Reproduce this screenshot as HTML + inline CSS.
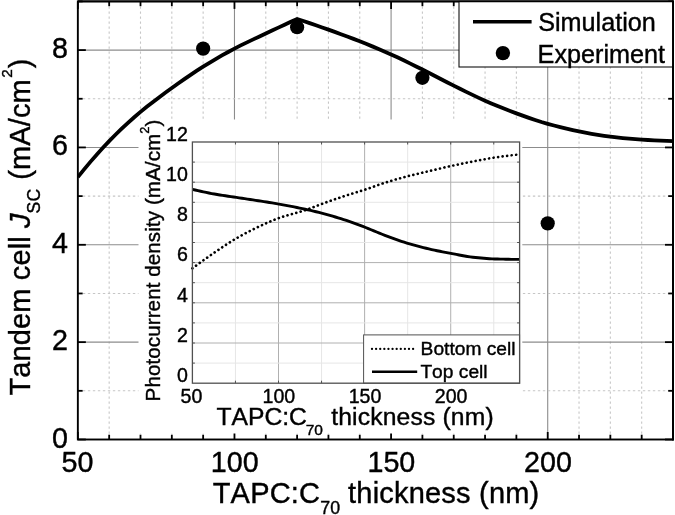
<!DOCTYPE html>
<html><head><meta charset="utf-8"><title>Tandem cell Jsc</title>
<style>html,body{margin:0;padding:0;background:#fff;}svg{display:block;filter:grayscale(100%) blur(0.3px);}text{font-family:"Liberation Sans",sans-serif;fill:#000;stroke:#000;stroke-width:0.4px;font-kerning:none;}</style>
</head><body>
<svg width="675" height="515" viewBox="0 0 675 515">
<rect x="0" y="0" width="675" height="515" fill="#fff"/>
<g fill="none" shape-rendering="auto">
<line x1="109.17" y1="1.40" x2="109.17" y2="439.50" stroke="#c6c6c6" stroke-width="1.1" stroke-dasharray="2.4 2.6"/>
<line x1="140.50" y1="1.40" x2="140.50" y2="439.50" stroke="#c6c6c6" stroke-width="1.1" stroke-dasharray="2.4 2.6"/>
<line x1="171.82" y1="1.40" x2="171.82" y2="439.50" stroke="#c6c6c6" stroke-width="1.1" stroke-dasharray="2.4 2.6"/>
<line x1="203.14" y1="1.40" x2="203.14" y2="439.50" stroke="#c6c6c6" stroke-width="1.1" stroke-dasharray="2.4 2.6"/>
<line x1="234.47" y1="1.40" x2="234.47" y2="439.50" stroke="#8c8c8c" stroke-width="1.1"/>
<line x1="265.79" y1="1.40" x2="265.79" y2="439.50" stroke="#c6c6c6" stroke-width="1.1" stroke-dasharray="2.4 2.6"/>
<line x1="297.12" y1="1.40" x2="297.12" y2="439.50" stroke="#c6c6c6" stroke-width="1.1" stroke-dasharray="2.4 2.6"/>
<line x1="328.44" y1="1.40" x2="328.44" y2="439.50" stroke="#c6c6c6" stroke-width="1.1" stroke-dasharray="2.4 2.6"/>
<line x1="359.76" y1="1.40" x2="359.76" y2="439.50" stroke="#c6c6c6" stroke-width="1.1" stroke-dasharray="2.4 2.6"/>
<line x1="391.09" y1="1.40" x2="391.09" y2="439.50" stroke="#8c8c8c" stroke-width="1.1"/>
<line x1="422.41" y1="1.40" x2="422.41" y2="439.50" stroke="#c6c6c6" stroke-width="1.1" stroke-dasharray="2.4 2.6"/>
<line x1="453.73" y1="1.40" x2="453.73" y2="439.50" stroke="#c6c6c6" stroke-width="1.1" stroke-dasharray="2.4 2.6"/>
<line x1="485.06" y1="1.40" x2="485.06" y2="439.50" stroke="#c6c6c6" stroke-width="1.1" stroke-dasharray="2.4 2.6"/>
<line x1="516.38" y1="1.40" x2="516.38" y2="439.50" stroke="#c6c6c6" stroke-width="1.1" stroke-dasharray="2.4 2.6"/>
<line x1="547.71" y1="1.40" x2="547.71" y2="439.50" stroke="#8c8c8c" stroke-width="1.1"/>
<line x1="579.03" y1="1.40" x2="579.03" y2="439.50" stroke="#c6c6c6" stroke-width="1.1" stroke-dasharray="2.4 2.6"/>
<line x1="610.35" y1="1.40" x2="610.35" y2="439.50" stroke="#c6c6c6" stroke-width="1.1" stroke-dasharray="2.4 2.6"/>
<line x1="641.68" y1="1.40" x2="641.68" y2="439.50" stroke="#c6c6c6" stroke-width="1.1" stroke-dasharray="2.4 2.6"/>
<line x1="77.85" y1="390.82" x2="673.00" y2="390.82" stroke="#c6c6c6" stroke-width="1.1" stroke-dasharray="2.4 2.6"/>
<line x1="77.85" y1="342.14" x2="673.00" y2="342.14" stroke="#8c8c8c" stroke-width="1.1"/>
<line x1="77.85" y1="293.47" x2="673.00" y2="293.47" stroke="#c6c6c6" stroke-width="1.1" stroke-dasharray="2.4 2.6"/>
<line x1="77.85" y1="244.79" x2="673.00" y2="244.79" stroke="#8c8c8c" stroke-width="1.1"/>
<line x1="77.85" y1="196.11" x2="673.00" y2="196.11" stroke="#c6c6c6" stroke-width="1.1" stroke-dasharray="2.4 2.6"/>
<line x1="77.85" y1="147.43" x2="673.00" y2="147.43" stroke="#8c8c8c" stroke-width="1.1"/>
<line x1="77.85" y1="98.76" x2="673.00" y2="98.76" stroke="#c6c6c6" stroke-width="1.1" stroke-dasharray="2.4 2.6"/>
<line x1="77.85" y1="50.08" x2="673.00" y2="50.08" stroke="#8c8c8c" stroke-width="1.1"/>
</g>
<clipPath id="mc"><rect x="77.85" y="1.40" width="595.15" height="438.10"/></clipPath>
<path d="M77.85,177.13 L84.11,169.37 L90.38,161.87 L96.64,154.64 L102.91,147.72 L109.17,141.11 L115.44,134.78 L121.70,128.70 L127.97,122.86 L134.23,117.26 L140.50,111.90 L146.76,106.78 L153.03,101.89 L159.29,97.17 L165.56,92.58 L171.82,88.05 L178.09,83.56 L184.35,79.14 L190.62,74.82 L196.88,70.64 L203.14,66.63 L209.41,62.78 L215.67,59.05 L221.94,55.44 L228.20,51.97 L234.47,48.62 L240.73,45.42 L247.00,42.37 L253.26,39.40 L259.53,36.47 L265.79,33.53 L272.06,30.57 L278.32,27.63 L284.59,24.71 L290.85,21.81 L297.12,18.92 L303.38,20.99 L309.65,23.09 L315.91,25.24 L322.17,27.42 L328.44,29.63 L334.70,31.88 L340.97,34.17 L347.23,36.49 L353.50,38.88 L359.76,41.32 L366.03,43.82 L372.29,46.37 L378.56,49.00 L384.82,51.69 L391.09,54.46 L397.35,57.33 L403.62,60.30 L409.88,63.35 L416.15,66.44 L422.41,69.55 L428.68,72.71 L434.94,75.95 L441.20,79.21 L447.47,82.45 L453.73,85.61 L460.00,88.73 L466.26,91.84 L472.53,94.90 L478.79,97.87 L485.06,100.70 L491.32,103.41 L497.59,106.04 L503.85,108.58 L510.12,111.02 L516.38,113.36 L522.65,115.63 L528.91,117.85 L535.18,119.98 L541.44,121.98 L547.71,123.82 L553.97,125.53 L560.23,127.14 L566.50,128.65 L572.76,130.06 L579.03,131.37 L585.29,132.61 L591.56,133.79 L597.82,134.90 L604.09,135.88 L610.35,136.72 L616.62,137.45 L622.88,138.11 L629.15,138.70 L635.41,139.21 L641.68,139.64 L647.94,140.02 L654.21,140.37 L660.47,140.67 L666.74,140.92 L673.00,141.11" fill="none" stroke="#000" stroke-width="3.8" stroke-linejoin="miter" clip-path="url(#mc)"/>
<circle cx="203.14" cy="48.62" r="7.1" fill="#000"/>
<circle cx="297.12" cy="27.20" r="7.1" fill="#000"/>
<circle cx="422.41" cy="77.82" r="7.1" fill="#000"/>
<circle cx="547.71" cy="223.37" r="7.1" fill="#000"/>
<g stroke="#000" stroke-width="1.8">
<line x1="77.85" y1="439.50" x2="77.85" y2="432.00"/>
<line x1="77.85" y1="1.40" x2="77.85" y2="8.90"/>
<line x1="109.17" y1="439.50" x2="109.17" y2="434.70"/>
<line x1="109.17" y1="1.40" x2="109.17" y2="6.20"/>
<line x1="140.50" y1="439.50" x2="140.50" y2="434.70"/>
<line x1="140.50" y1="1.40" x2="140.50" y2="6.20"/>
<line x1="171.82" y1="439.50" x2="171.82" y2="434.70"/>
<line x1="171.82" y1="1.40" x2="171.82" y2="6.20"/>
<line x1="203.14" y1="439.50" x2="203.14" y2="434.70"/>
<line x1="203.14" y1="1.40" x2="203.14" y2="6.20"/>
<line x1="234.47" y1="439.50" x2="234.47" y2="432.00"/>
<line x1="234.47" y1="1.40" x2="234.47" y2="8.90"/>
<line x1="265.79" y1="439.50" x2="265.79" y2="434.70"/>
<line x1="265.79" y1="1.40" x2="265.79" y2="6.20"/>
<line x1="297.12" y1="439.50" x2="297.12" y2="434.70"/>
<line x1="297.12" y1="1.40" x2="297.12" y2="6.20"/>
<line x1="328.44" y1="439.50" x2="328.44" y2="434.70"/>
<line x1="328.44" y1="1.40" x2="328.44" y2="6.20"/>
<line x1="359.76" y1="439.50" x2="359.76" y2="434.70"/>
<line x1="359.76" y1="1.40" x2="359.76" y2="6.20"/>
<line x1="391.09" y1="439.50" x2="391.09" y2="432.00"/>
<line x1="391.09" y1="1.40" x2="391.09" y2="8.90"/>
<line x1="422.41" y1="439.50" x2="422.41" y2="434.70"/>
<line x1="422.41" y1="1.40" x2="422.41" y2="6.20"/>
<line x1="453.73" y1="439.50" x2="453.73" y2="434.70"/>
<line x1="453.73" y1="1.40" x2="453.73" y2="6.20"/>
<line x1="485.06" y1="439.50" x2="485.06" y2="434.70"/>
<line x1="485.06" y1="1.40" x2="485.06" y2="6.20"/>
<line x1="516.38" y1="439.50" x2="516.38" y2="434.70"/>
<line x1="516.38" y1="1.40" x2="516.38" y2="6.20"/>
<line x1="547.71" y1="439.50" x2="547.71" y2="432.00"/>
<line x1="547.71" y1="1.40" x2="547.71" y2="8.90"/>
<line x1="579.03" y1="439.50" x2="579.03" y2="434.70"/>
<line x1="579.03" y1="1.40" x2="579.03" y2="6.20"/>
<line x1="610.35" y1="439.50" x2="610.35" y2="434.70"/>
<line x1="610.35" y1="1.40" x2="610.35" y2="6.20"/>
<line x1="641.68" y1="439.50" x2="641.68" y2="434.70"/>
<line x1="641.68" y1="1.40" x2="641.68" y2="6.20"/>
<line x1="673.00" y1="439.50" x2="673.00" y2="434.70"/>
<line x1="673.00" y1="1.40" x2="673.00" y2="6.20"/>
<line x1="77.85" y1="439.50" x2="85.85" y2="439.50"/>
<line x1="673.00" y1="439.50" x2="665.00" y2="439.50"/>
<line x1="77.85" y1="390.82" x2="82.65" y2="390.82"/>
<line x1="673.00" y1="390.82" x2="668.20" y2="390.82"/>
<line x1="77.85" y1="342.14" x2="85.85" y2="342.14"/>
<line x1="673.00" y1="342.14" x2="665.00" y2="342.14"/>
<line x1="77.85" y1="293.47" x2="82.65" y2="293.47"/>
<line x1="673.00" y1="293.47" x2="668.20" y2="293.47"/>
<line x1="77.85" y1="244.79" x2="85.85" y2="244.79"/>
<line x1="673.00" y1="244.79" x2="665.00" y2="244.79"/>
<line x1="77.85" y1="196.11" x2="82.65" y2="196.11"/>
<line x1="673.00" y1="196.11" x2="668.20" y2="196.11"/>
<line x1="77.85" y1="147.43" x2="85.85" y2="147.43"/>
<line x1="673.00" y1="147.43" x2="665.00" y2="147.43"/>
<line x1="77.85" y1="98.76" x2="82.65" y2="98.76"/>
<line x1="673.00" y1="98.76" x2="668.20" y2="98.76"/>
<line x1="77.85" y1="50.08" x2="85.85" y2="50.08"/>
<line x1="673.00" y1="50.08" x2="665.00" y2="50.08"/>
<line x1="77.85" y1="1.40" x2="82.65" y2="1.40"/>
<line x1="673.00" y1="1.40" x2="668.20" y2="1.40"/>
</g>
<rect x="77.85" y="1.40" width="595.15" height="438.10" fill="none" stroke="#000" stroke-width="1.9"/>
<rect x="459.0" y="1.40" width="214.00" height="65.60" fill="#fff" stroke="#111" stroke-width="1.1"/>
<line x1="473" y1="21.8" x2="531.6" y2="21.8" stroke="#000" stroke-width="3.4"/>
<circle cx="502.9" cy="53.1" r="7.2" fill="#000"/>
<text x="538.2" y="30.6" font-size="25.2">Simulation</text>
<text x="537.6" y="62.5" font-size="25.2">Experiment</text>
<line x1="77.85" y1="1.40" x2="673.00" y2="1.40" stroke="#000" stroke-width="1.9"/>
<line x1="673.00" y1="0.45" x2="673.00" y2="440.45" stroke="#000" stroke-width="1.9"/>
<text x="68.0" y="448.10" font-size="28.7" text-anchor="end">0</text>
<text x="68.0" y="349.94" font-size="28.7" text-anchor="end">2</text>
<text x="68.0" y="252.59" font-size="28.7" text-anchor="end">4</text>
<text x="68.0" y="155.23" font-size="28.7" text-anchor="end">6</text>
<text x="68.0" y="57.88" font-size="28.7" text-anchor="end">8</text>
<text x="77.55" y="471.7" font-size="28.7" text-anchor="middle">50</text>
<text x="234.77" y="471.7" font-size="28.7" text-anchor="middle">100</text>
<text x="391.39" y="471.7" font-size="28.7" text-anchor="middle">150</text>
<text x="548.01" y="471.7" font-size="28.7" text-anchor="middle">200</text>
<text x="212.7" y="502.5" font-size="29" letter-spacing="0.2">TAPC:C<tspan font-size="17.8" dy="11">70</tspan><tspan dy="-11" dx="-0.6"> thickness (nm)</tspan></text>
<text transform="translate(29.6,395.5) rotate(-90)" font-size="29" letter-spacing="0.12">Tandem cell <tspan font-style="italic">J</tspan><tspan font-size="17.6" dy="10.5">SC</tspan><tspan dy="-10.5" dx="0.8"> (mA/cm</tspan><tspan font-size="15.4" dy="-17.6" dx="1.5">2</tspan><tspan dy="17.6" dx="0.7">)</tspan></text>
<rect x="138.5" y="119.5" width="383.80" height="314.00" fill="#fff"/>
<line x1="235.45" y1="142.00" x2="235.45" y2="383.20" stroke="#e6e6e6" stroke-width="1"/>
<line x1="278.51" y1="142.00" x2="278.51" y2="383.20" stroke="#b0b0b0" stroke-width="1"/>
<line x1="321.56" y1="142.00" x2="321.56" y2="383.20" stroke="#e6e6e6" stroke-width="1"/>
<line x1="364.61" y1="142.00" x2="364.61" y2="383.20" stroke="#b0b0b0" stroke-width="1"/>
<line x1="407.66" y1="142.00" x2="407.66" y2="383.20" stroke="#e6e6e6" stroke-width="1"/>
<line x1="450.72" y1="142.00" x2="450.72" y2="383.20" stroke="#b0b0b0" stroke-width="1"/>
<line x1="493.77" y1="142.00" x2="493.77" y2="383.20" stroke="#e6e6e6" stroke-width="1"/>
<line x1="192.40" y1="363.10" x2="519.60" y2="363.10" stroke="#e6e6e6" stroke-width="1"/>
<line x1="192.40" y1="343.00" x2="519.60" y2="343.00" stroke="#b0b0b0" stroke-width="1"/>
<line x1="192.40" y1="322.90" x2="519.60" y2="322.90" stroke="#e6e6e6" stroke-width="1"/>
<line x1="192.40" y1="302.80" x2="519.60" y2="302.80" stroke="#b0b0b0" stroke-width="1"/>
<line x1="192.40" y1="282.70" x2="519.60" y2="282.70" stroke="#e6e6e6" stroke-width="1"/>
<line x1="192.40" y1="262.60" x2="519.60" y2="262.60" stroke="#b0b0b0" stroke-width="1"/>
<line x1="192.40" y1="242.50" x2="519.60" y2="242.50" stroke="#e6e6e6" stroke-width="1"/>
<line x1="192.40" y1="222.40" x2="519.60" y2="222.40" stroke="#b0b0b0" stroke-width="1"/>
<line x1="192.40" y1="202.30" x2="519.60" y2="202.30" stroke="#e6e6e6" stroke-width="1"/>
<line x1="192.40" y1="182.20" x2="519.60" y2="182.20" stroke="#b0b0b0" stroke-width="1"/>
<line x1="192.40" y1="162.10" x2="519.60" y2="162.10" stroke="#e6e6e6" stroke-width="1"/>
<path d="M192.40,189.30 L195.15,189.97 L197.90,190.63 L200.65,191.26 L203.40,191.87 L206.15,192.45 L208.90,193.01 L211.65,193.55 L214.40,194.05 L217.15,194.53 L219.90,194.97 L222.65,195.39 L225.39,195.80 L228.14,196.20 L230.89,196.60 L233.64,197.01 L236.39,197.43 L239.14,197.85 L241.89,198.27 L244.64,198.68 L247.39,199.09 L250.14,199.51 L252.89,199.92 L255.64,200.33 L258.39,200.75 L261.14,201.18 L263.89,201.60 L266.64,202.04 L269.39,202.48 L272.14,202.93 L274.89,203.39 L277.64,203.87 L280.39,204.35 L283.14,204.85 L285.89,205.35 L288.64,205.87 L291.38,206.40 L294.13,206.94 L296.88,207.49 L299.63,208.06 L302.38,208.63 L305.13,209.22 L307.88,209.82 L310.63,210.43 L313.38,211.07 L316.13,211.74 L318.88,212.42 L321.63,213.13 L324.38,213.87 L327.13,214.62 L329.88,215.40 L332.63,216.19 L335.38,217.01 L338.13,217.84 L340.88,218.70 L343.63,219.57 L346.38,220.46 L349.13,221.38 L351.88,222.34 L354.63,223.33 L357.37,224.36 L360.12,225.40 L362.87,226.46 L365.62,227.52 L368.37,228.61 L371.12,229.74 L373.87,230.88 L376.62,232.03 L379.37,233.17 L382.12,234.27 L384.87,235.34 L387.62,236.37 L390.37,237.39 L393.12,238.39 L395.87,239.38 L398.62,240.35 L401.37,241.28 L404.12,242.18 L406.87,243.04 L409.62,243.86 L412.37,244.66 L415.12,245.43 L417.87,246.18 L420.62,246.91 L423.36,247.61 L426.11,248.28 L428.86,248.93 L431.61,249.55 L434.36,250.15 L437.11,250.72 L439.86,251.28 L442.61,251.82 L445.36,252.34 L448.11,252.86 L450.86,253.37 L453.61,253.90 L456.36,254.43 L459.11,254.97 L461.86,255.49 L464.61,255.99 L467.36,256.45 L470.11,256.85 L472.86,257.20 L475.61,257.49 L478.36,257.78 L481.11,258.05 L483.86,258.30 L486.61,258.51 L489.35,258.70 L492.10,258.84 L494.85,258.93 L497.60,259.02 L500.35,259.10 L503.10,259.17 L505.85,259.23 L508.60,259.29 L511.35,259.34 L514.10,259.37 L516.85,259.39 L519.60,259.40" fill="none" stroke="#000" stroke-width="2.9"/>
<path d="M192.40,268.30 L195.15,266.26 L197.90,264.24 L200.65,262.25 L203.40,260.27 L206.15,258.32 L208.90,256.39 L211.65,254.48 L214.40,252.60 L217.15,250.72 L219.90,248.84 L222.65,246.99 L225.39,245.16 L228.14,243.36 L230.89,241.62 L233.64,239.94 L236.39,238.33 L239.14,236.76 L241.89,235.24 L244.64,233.75 L247.39,232.29 L250.14,230.88 L252.89,229.50 L255.64,228.16 L258.39,226.84 L261.14,225.54 L263.89,224.26 L266.64,223.01 L269.39,221.80 L272.14,220.63 L274.89,219.52 L277.64,218.48 L280.39,217.51 L283.14,216.61 L285.89,215.77 L288.64,214.96 L291.38,214.19 L294.13,213.43 L296.88,212.66 L299.63,211.88 L302.38,211.06 L305.13,210.19 L307.88,209.26 L310.63,208.24 L313.38,207.17 L316.13,206.07 L318.88,204.99 L321.63,203.95 L324.38,202.96 L327.13,201.98 L329.88,201.01 L332.63,200.05 L335.38,199.10 L338.13,198.17 L340.88,197.25 L343.63,196.33 L346.38,195.43 L349.13,194.54 L351.88,193.68 L354.63,192.85 L357.37,192.01 L360.12,191.18 L362.87,190.32 L365.62,189.43 L368.37,188.49 L371.12,187.53 L373.87,186.54 L376.62,185.55 L379.37,184.58 L382.12,183.63 L384.87,182.74 L387.62,181.88 L390.37,181.05 L393.12,180.23 L395.87,179.44 L398.62,178.66 L401.37,177.91 L404.12,177.16 L406.87,176.44 L409.62,175.73 L412.37,175.05 L415.12,174.38 L417.87,173.73 L420.62,173.09 L423.36,172.45 L426.11,171.82 L428.86,171.17 L431.61,170.52 L434.36,169.87 L437.11,169.21 L439.86,168.56 L442.61,167.91 L445.36,167.27 L448.11,166.64 L450.86,166.03 L453.61,165.43 L456.36,164.85 L459.11,164.27 L461.86,163.70 L464.61,163.14 L467.36,162.59 L470.11,162.04 L472.86,161.51 L475.61,160.98 L478.36,160.44 L481.11,159.91 L483.86,159.40 L486.61,158.90 L489.35,158.42 L492.10,157.96 L494.85,157.54 L497.60,157.14 L500.35,156.74 L503.10,156.36 L505.85,155.99 L508.60,155.64 L511.35,155.30 L514.10,154.98 L516.85,154.68 L519.60,154.40" fill="none" stroke="#000" stroke-width="2.7" stroke-linecap="round" stroke-dasharray="0.01 4.55"/>
<g stroke="#505050" stroke-width="1">
<line x1="235.45" y1="383.20" x2="235.45" y2="380.70"/>
<line x1="235.45" y1="142.00" x2="235.45" y2="144.50"/>
<line x1="278.51" y1="383.20" x2="278.51" y2="380.70"/>
<line x1="278.51" y1="142.00" x2="278.51" y2="144.50"/>
<line x1="321.56" y1="383.20" x2="321.56" y2="380.70"/>
<line x1="321.56" y1="142.00" x2="321.56" y2="144.50"/>
<line x1="364.61" y1="383.20" x2="364.61" y2="380.70"/>
<line x1="364.61" y1="142.00" x2="364.61" y2="144.50"/>
<line x1="407.66" y1="383.20" x2="407.66" y2="380.70"/>
<line x1="407.66" y1="142.00" x2="407.66" y2="144.50"/>
<line x1="450.72" y1="383.20" x2="450.72" y2="380.70"/>
<line x1="450.72" y1="142.00" x2="450.72" y2="144.50"/>
<line x1="493.77" y1="383.20" x2="493.77" y2="380.70"/>
<line x1="493.77" y1="142.00" x2="493.77" y2="144.50"/>
<line x1="192.40" y1="363.10" x2="194.90" y2="363.10"/>
<line x1="519.60" y1="363.10" x2="517.10" y2="363.10"/>
<line x1="192.40" y1="343.00" x2="194.90" y2="343.00"/>
<line x1="519.60" y1="343.00" x2="517.10" y2="343.00"/>
<line x1="192.40" y1="322.90" x2="194.90" y2="322.90"/>
<line x1="519.60" y1="322.90" x2="517.10" y2="322.90"/>
<line x1="192.40" y1="302.80" x2="194.90" y2="302.80"/>
<line x1="519.60" y1="302.80" x2="517.10" y2="302.80"/>
<line x1="192.40" y1="282.70" x2="194.90" y2="282.70"/>
<line x1="519.60" y1="282.70" x2="517.10" y2="282.70"/>
<line x1="192.40" y1="262.60" x2="194.90" y2="262.60"/>
<line x1="519.60" y1="262.60" x2="517.10" y2="262.60"/>
<line x1="192.40" y1="242.50" x2="194.90" y2="242.50"/>
<line x1="519.60" y1="242.50" x2="517.10" y2="242.50"/>
<line x1="192.40" y1="222.40" x2="194.90" y2="222.40"/>
<line x1="519.60" y1="222.40" x2="517.10" y2="222.40"/>
<line x1="192.40" y1="202.30" x2="194.90" y2="202.30"/>
<line x1="519.60" y1="202.30" x2="517.10" y2="202.30"/>
<line x1="192.40" y1="182.20" x2="194.90" y2="182.20"/>
<line x1="519.60" y1="182.20" x2="517.10" y2="182.20"/>
<line x1="192.40" y1="162.10" x2="194.90" y2="162.10"/>
<line x1="519.60" y1="162.10" x2="517.10" y2="162.10"/>
</g>
<rect x="363.6" y="334.9" width="156.00" height="48.30" fill="#fff" stroke="#505050" stroke-width="1"/>
<line x1="372" y1="348.9" x2="417.2" y2="348.9" stroke="#000" stroke-width="2.3" stroke-linecap="round" stroke-dasharray="0.01 4.1"/>
<line x1="372" y1="371.7" x2="417.2" y2="371.7" stroke="#000" stroke-width="2.6"/>
<text x="420.6" y="354.6" font-size="19.2">Bottom cell</text>
<text x="420.4" y="377.6" font-size="19.2">Top cell</text>
<rect x="192.40" y="142.00" width="327.20" height="241.20" fill="none" stroke="#505050" stroke-width="1.3"/>
<text x="187.9" y="382.00" font-size="19.6" text-anchor="end">0</text>
<text x="187.9" y="341.80" font-size="19.6" text-anchor="end">2</text>
<text x="187.9" y="301.60" font-size="19.6" text-anchor="end">4</text>
<text x="187.9" y="261.40" font-size="19.6" text-anchor="end">6</text>
<text x="187.9" y="221.20" font-size="19.6" text-anchor="end">8</text>
<text x="187.9" y="181.00" font-size="19.6" text-anchor="end">10</text>
<text x="187.9" y="140.80" font-size="19.6" text-anchor="end">12</text>
<text x="191.40" y="402.6" font-size="19.6" text-anchor="middle">50</text>
<text x="278.91" y="402.6" font-size="19.6" text-anchor="middle">100</text>
<text x="365.01" y="402.6" font-size="19.6" text-anchor="middle">150</text>
<text x="451.12" y="402.6" font-size="19.6" text-anchor="middle">200</text>
<text x="216.4" y="425.2" font-size="24.7">TAPC:C<tspan font-size="15.5" dy="9.5" dx="-1.2">70</tspan><tspan dy="-9.5" dx="1.2" letter-spacing="0.15"> thickness (nm)</tspan></text>
<text transform="translate(159.6,401.4) rotate(-90)" font-size="20.6" letter-spacing="0.08">Photocurrent density (mA/cm<tspan font-size="12.8" dy="-10.5">2</tspan><tspan dy="10.5">)</tspan></text>
</svg></body></html>
